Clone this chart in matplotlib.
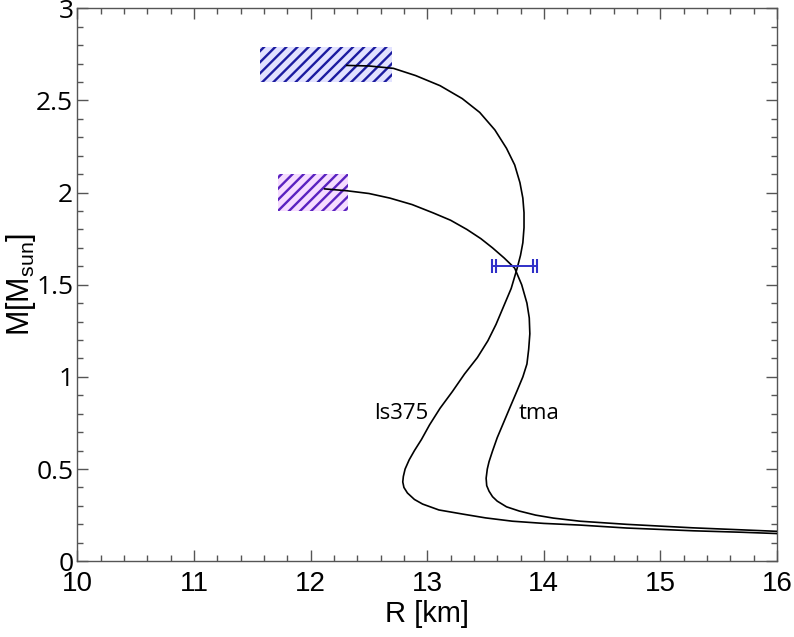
import matplotlib
matplotlib.use("Agg")
import matplotlib.pyplot as plt
from matplotlib.path import Path
from matplotlib.patches import Rectangle
from matplotlib.ticker import MultipleLocator

# ---- data ----
ls375_R = [12.31, 12.50, 12.71, 12.90, 13.11, 13.30, 13.45, 13.58, 13.68, 13.75, 13.795, 13.82, 13.83, 13.83,
           13.82, 13.80, 13.77, 13.72, 13.65, 13.59, 13.52, 13.43, 13.32, 13.215, 13.11, 13.02, 12.95, 12.89,
           12.845, 12.81, 12.795, 12.79, 12.80, 12.83, 12.89, 12.96, 13.10, 13.31, 13.50, 13.73, 14.00, 14.31,
           14.71, 15.28, 15.70, 16.0]
ls375_M = [2.69, 2.687, 2.674, 2.635, 2.58, 2.51, 2.435, 2.34, 2.24, 2.15, 2.054, 1.97, 1.891, 1.81,
           1.728, 1.66, 1.587, 1.48, 1.375, 1.285, 1.196, 1.105, 1.016, 0.92, 0.83, 0.74, 0.66, 0.60,
           0.55, 0.50, 0.46, 0.43, 0.40, 0.37, 0.335, 0.31, 0.278, 0.255, 0.235, 0.217, 0.205, 0.196,
           0.18, 0.165, 0.157, 0.150]

tma_R = [12.12, 12.31, 12.50, 12.68, 12.87, 13.05, 13.20, 13.34, 13.46, 13.56, 13.66, 13.75, 13.81, 13.855,
         13.875, 13.88, 13.87, 13.855, 13.82, 13.77, 13.71, 13.65, 13.60, 13.56, 13.53, 13.515, 13.505,
         13.51, 13.53, 13.56, 13.60, 13.68, 13.79, 13.93, 14.08, 14.31, 14.71, 15.28, 15.70, 16.0]
tma_M = [2.02, 2.01, 1.995, 1.97, 1.935, 1.89, 1.85, 1.80, 1.75, 1.70, 1.645, 1.59, 1.50, 1.40,
         1.32, 1.234, 1.15, 1.07, 1.00, 0.924, 0.835, 0.745, 0.67, 0.598, 0.54, 0.50, 0.45,
         0.41, 0.38, 0.35, 0.326, 0.295, 0.272, 0.25, 0.234, 0.217, 0.20, 0.181, 0.17, 0.162]

curve_labels = ["ls375", "tma"]
label_R = [12.545, 13.78]
label_M = [0.80, 0.80]

# constraint boxes: (R_min, R_max, M_min, M_max)
box_blue = [11.565, 12.70, 2.60, 2.79]
box_purple = [11.72, 12.32, 1.90, 2.10]

# radius measurement at 1.6 Msun
err_M = 1.6
err_R_lo = 13.57
err_R_hi = 13.92

xticks = [10, 11, 12, 13, 14, 15, 16]
yticks = [0, 0.5, 1, 1.5, 2, 2.5, 3]
ytick_labels = ["0", "0.5", "1", "1.5", "2", "2.5", "3"]

# ---- figure ----
plt.rcParams['hatch.linewidth'] = 1.7
fig = plt.figure(figsize=(7.94, 6.37), dpi=100)
ax = fig.add_axes([0.0976, 0.119, 0.881, 0.868])

ax.add_patch(Rectangle((box_blue[0], box_blue[2]), box_blue[1] - box_blue[0], box_blue[3] - box_blue[2],
                       facecolor="#e2e2ff", edgecolor="#1c1ca0", hatch="///", linewidth=0, zorder=1))
ax.add_patch(Rectangle((box_purple[0], box_purple[2]), box_purple[1] - box_purple[0], box_purple[3] - box_purple[2],
                       facecolor="#f6dcff", edgecolor="#5a22c0", hatch="///", linewidth=0, zorder=1))

ax.plot(ls375_R, ls375_M, color="black", lw=1.2, zorder=3)
ax.plot(tma_R, tma_M, color="black", lw=1.2, zorder=3)

for t, r, m in zip(curve_labels, label_R, label_M):
    ax.text(r, m, t, fontsize=16, family=["Open Sans", "DejaVu Sans"], va="center", ha="left")

errc = "#3030c8"
ax.plot([err_R_lo, err_R_hi], [err_M, err_M], color=errc, lw=1.4, zorder=4)
cap = Path([(-0.22, -1), (-0.22, 1), (0.22, -1), (0.22, 1)],
           [Path.MOVETO, Path.LINETO, Path.MOVETO, Path.LINETO])
ax.plot([err_R_lo, err_R_hi], [err_M, err_M], linestyle="none", marker=cap, markersize=10,
        markeredgecolor=errc, markeredgewidth=1.5, zorder=4)

ax.set_xlim(10, 16)
ax.set_ylim(0, 3)
ax.set_xticks(xticks)
ax.set_yticks(yticks)
ax.set_yticklabels(ytick_labels)
ax.xaxis.set_minor_locator(MultipleLocator(0.2))
ax.yaxis.set_minor_locator(MultipleLocator(0.1))
ax.tick_params(which="both", direction="in", top=True, right=True, color="#555555")
ax.tick_params(which="major", length=8, width=1)
ax.tick_params(which="minor", length=4, width=1)
for s in ax.spines.values():
    s.set_color("#555555")
    s.set_linewidth(1)

for lab in ax.get_xticklabels():
    lab.set_family(["Liberation Sans Narrow", "Liberation Sans", "DejaVu Sans"])
    lab.set_fontsize(20)
for lab in ax.get_yticklabels():
    lab.set_family(["Open Sans", "DejaVu Sans"])
    lab.set_fontsize(19)
ax.tick_params(axis="x", pad=7)
ax.tick_params(axis="y", pad=3)

ax.set_xlabel("R [km]", fontsize=21, family=["Liberation Sans Narrow", "Liberation Sans", "DejaVu Sans"], labelpad=2)
ax.set_ylabel(r"M[M$_{\mathregular{sun}}$]", fontsize=22, family=["Liberation Sans", "DejaVu Sans"])
ax.yaxis.label.set_verticalalignment("baseline")
ax.yaxis.set_label_coords(-0.069, 0.5)

fig.savefig("out.png", dpi=100)
